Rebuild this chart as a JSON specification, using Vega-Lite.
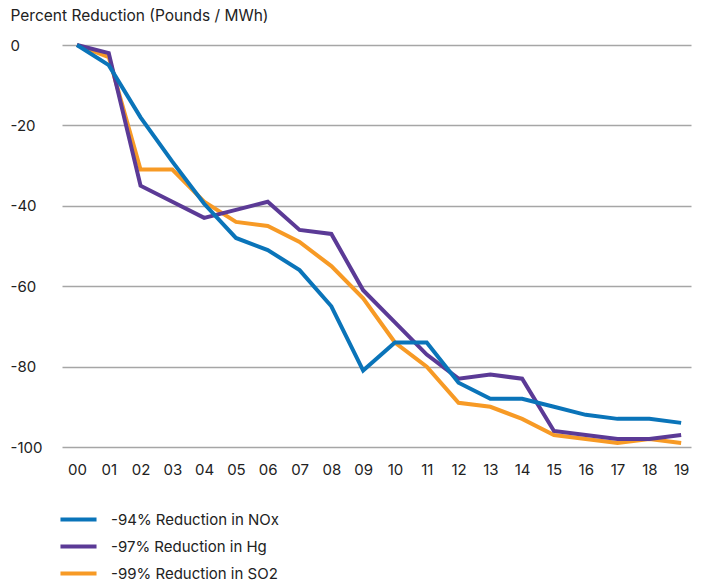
{
  "$schema": "https://vega.github.io/schema/vega-lite/v6.json",
  "autosize": "none",
  "width": 629,
  "height": 402,
  "padding": {"left": 62, "top": 45, "right": 18, "bottom": 134},
  "background": "white",
  "config": {
    "view": {"stroke": null},
    "font": "Inter"
  },
  "data": {
    "values": [
      {"yr": 0, "v": 0, "s": "-99% Reduction in SO2"},
      {"yr": 1, "v": -3, "s": "-99% Reduction in SO2"},
      {"yr": 2, "v": -31, "s": "-99% Reduction in SO2"},
      {"yr": 3, "v": -31, "s": "-99% Reduction in SO2"},
      {"yr": 4, "v": -39, "s": "-99% Reduction in SO2"},
      {"yr": 5, "v": -44, "s": "-99% Reduction in SO2"},
      {"yr": 6, "v": -45, "s": "-99% Reduction in SO2"},
      {"yr": 7, "v": -49, "s": "-99% Reduction in SO2"},
      {"yr": 8, "v": -55, "s": "-99% Reduction in SO2"},
      {"yr": 9, "v": -63, "s": "-99% Reduction in SO2"},
      {"yr": 10, "v": -74, "s": "-99% Reduction in SO2"},
      {"yr": 11, "v": -80, "s": "-99% Reduction in SO2"},
      {"yr": 12, "v": -89, "s": "-99% Reduction in SO2"},
      {"yr": 13, "v": -90, "s": "-99% Reduction in SO2"},
      {"yr": 14, "v": -93, "s": "-99% Reduction in SO2"},
      {"yr": 15, "v": -97, "s": "-99% Reduction in SO2"},
      {"yr": 16, "v": -98, "s": "-99% Reduction in SO2"},
      {"yr": 17, "v": -99, "s": "-99% Reduction in SO2"},
      {"yr": 18, "v": -98, "s": "-99% Reduction in SO2"},
      {"yr": 19, "v": -99, "s": "-99% Reduction in SO2"},
      {"yr": 0, "v": 0, "s": "-97% Reduction in Hg"},
      {"yr": 1, "v": -2, "s": "-97% Reduction in Hg"},
      {"yr": 2, "v": -35, "s": "-97% Reduction in Hg"},
      {"yr": 3, "v": -39, "s": "-97% Reduction in Hg"},
      {"yr": 4, "v": -43, "s": "-97% Reduction in Hg"},
      {"yr": 5, "v": -41, "s": "-97% Reduction in Hg"},
      {"yr": 6, "v": -39, "s": "-97% Reduction in Hg"},
      {"yr": 7, "v": -46, "s": "-97% Reduction in Hg"},
      {"yr": 8, "v": -47, "s": "-97% Reduction in Hg"},
      {"yr": 9, "v": -61, "s": "-97% Reduction in Hg"},
      {"yr": 10, "v": -69, "s": "-97% Reduction in Hg"},
      {"yr": 11, "v": -77, "s": "-97% Reduction in Hg"},
      {"yr": 12, "v": -83, "s": "-97% Reduction in Hg"},
      {"yr": 13, "v": -82, "s": "-97% Reduction in Hg"},
      {"yr": 14, "v": -83, "s": "-97% Reduction in Hg"},
      {"yr": 15, "v": -96, "s": "-97% Reduction in Hg"},
      {"yr": 16, "v": -97, "s": "-97% Reduction in Hg"},
      {"yr": 17, "v": -98, "s": "-97% Reduction in Hg"},
      {"yr": 18, "v": -98, "s": "-97% Reduction in Hg"},
      {"yr": 19, "v": -97, "s": "-97% Reduction in Hg"},
      {"yr": 0, "v": 0, "s": "-94% Reduction in NOx"},
      {"yr": 1, "v": -5, "s": "-94% Reduction in NOx"},
      {"yr": 2, "v": -18, "s": "-94% Reduction in NOx"},
      {"yr": 3, "v": -29, "s": "-94% Reduction in NOx"},
      {"yr": 4, "v": -39.5, "s": "-94% Reduction in NOx"},
      {"yr": 5, "v": -48, "s": "-94% Reduction in NOx"},
      {"yr": 6, "v": -51, "s": "-94% Reduction in NOx"},
      {"yr": 7, "v": -56, "s": "-94% Reduction in NOx"},
      {"yr": 8, "v": -65, "s": "-94% Reduction in NOx"},
      {"yr": 9, "v": -81, "s": "-94% Reduction in NOx"},
      {"yr": 10, "v": -74, "s": "-94% Reduction in NOx"},
      {"yr": 11, "v": -74, "s": "-94% Reduction in NOx"},
      {"yr": 12, "v": -84, "s": "-94% Reduction in NOx"},
      {"yr": 13, "v": -88, "s": "-94% Reduction in NOx"},
      {"yr": 14, "v": -88, "s": "-94% Reduction in NOx"},
      {"yr": 15, "v": -90, "s": "-94% Reduction in NOx"},
      {"yr": 16, "v": -92, "s": "-94% Reduction in NOx"},
      {"yr": 17, "v": -93, "s": "-94% Reduction in NOx"},
      {"yr": 18, "v": -93, "s": "-94% Reduction in NOx"},
      {"yr": 19, "v": -94, "s": "-94% Reduction in NOx"}
    ]
  },
  "mark": {"type": "line", "strokeWidth": 4, "strokeJoin": "miter", "strokeCap": "butt"},
  "encoding": {
    "x": {
      "field": "yr",
      "type": "quantitative",
      "scale": {"domain": [-0.47, 19.31], "nice": false, "zero": false},
      "axis": {
        "values": [0,1,2,3,4,5,6,7,8,9,10,11,12,13,14,15,16,17,18,19],
        "labelExpr": "datum.value < 10 ? '0' + datum.value : '' + datum.value",
        "title": null,
        "grid": false,
        "domain": false,
        "ticks": false,
        "labelFontSize": 15,
        "labelColor": "#222222",
        "labelPadding": 15,
        "labelFlush": false,
        "labelOverlap": false
      }
    },
    "y": {
      "field": "v",
      "type": "quantitative",
      "scale": {"domain": [-100, 0], "nice": false, "zero": false},
      "axis": {
        "values": [0, -20, -40, -60, -80, -100],
        "labelExpr": "'' + datum.value",
        "title": "Percent Reduction (Pounds / MWh)",
        "titleAngle": 0,
        "titleX": -52,
        "titleY": -30,
        "titleAlign": "left",
        "titleBaseline": "middle",
        "titleFontSize": 15.5,
        "titleFontWeight": "normal",
        "titleColor": "#222222",
        "labelAlign": "left",
        "labelPadding": 52,
        "labelFontSize": 15,
        "labelColor": "#222222",
        "labelBaseline": "middle",
        "domain": false,
        "ticks": false,
        "grid": true,
        "gridColor": "#a6a6a6",
        "gridWidth": 1.5
      }
    },
    "color": {
      "field": "s",
      "type": "nominal",
      "scale": {
        "domain": ["-94% Reduction in NOx", "-97% Reduction in Hg", "-99% Reduction in SO2"],
        "range": ["#0A74B9", "#5B3A96", "#F79A25"]
      },
      "legend": {
        "title": null,
        "orient": "none",
        "legendX": -4,
        "legendY": 461,
        "direction": "vertical",
        "symbolType": "stroke",
        "symbolSize": 1300,
        "symbolStrokeWidth": 4,
        "labelFontSize": 15,
        "labelColor": "#222222",
        "labelOffset": 12,
        "labelLimit": 400,
        "clipHeight": 27,
        "rowPadding": 0
      }
    }
  }
}
